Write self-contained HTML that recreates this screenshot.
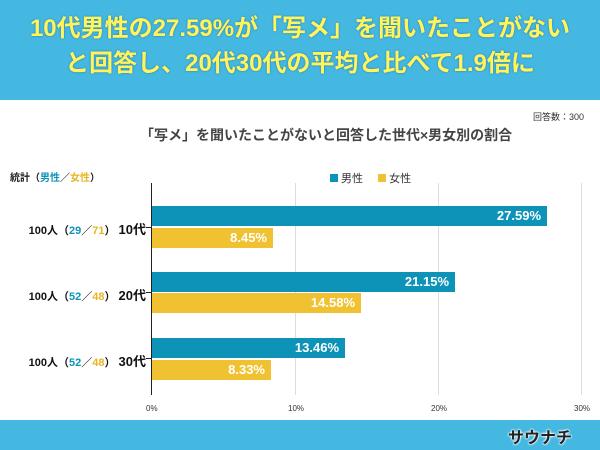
<!DOCTYPE html><html><head><meta charset="utf-8"><style>
body{margin:0;width:600px;height:450px;overflow:hidden;background:#fff;font-family:"Liberation Sans","Noto Sans CJK JP",sans-serif;position:relative}
.a{position:absolute;white-space:nowrap}
.bar{position:absolute;height:20px;color:#fff;font-weight:bold;font-size:13px;text-align:right;line-height:20px;box-sizing:border-box;padding-right:6px}
.m{background:#0e93b8}.f{background:#f0c232}
.g{position:absolute;top:183px;height:212px;width:1px;background:#ddd}
.t{position:absolute;top:404px;font-size:8px;color:#333}
.r{position:absolute;left:0;width:146px;text-align:right;font-size:11px;font-weight:bold;color:#111}
.k{position:absolute;left:146px;width:6px;height:1px;background:#222}
</style></head><body>
<div class="a" style="left:0;top:0;width:600px;height:100px;background:#45b8e2"></div>
<div class="a" style="left:0;top:11px;width:600px;text-align:center;font-size:24px;font-weight:bold;color:#fff45c;line-height:35px;text-shadow:0 0 2px #2a7aa0">10代男性の27.59%が「写メ」を聞いたことがない<br>と回答し、20代30代の平均と比べて1.9倍に</div>
<div class="a" style="left:0;top:420px;width:600px;height:30px;background:#45b8e2"></div>
<div class="a" style="left:508px;top:424px;font-size:16px;font-weight:bold;color:#222;text-shadow:0 0 2px #fff,0 0 2px #fff,0 0 2px #fff">サウナチ</div>
<div class="a" style="right:16px;top:110px;font-size:9px;color:#333">回答数：300</div>
<div class="a" style="left:140px;top:125px;font-size:14px;font-weight:bold;color:#444">「写メ」を聞いたことがないと回答した世代×男女別の割合</div>
<div class="a" style="left:10px;top:169px;font-size:10px;font-weight:bold;color:#222">統計（<span style="color:#0e93b8">男性</span>／<span style="color:#e8b520">女性</span>）</div>
<div class="a" style="left:330px;top:170px;font-size:11px;color:#333"><span style="display:inline-block;width:8px;height:8px;background:#0e93b8"></span> 男性 <span style="display:inline-block;width:8px;height:8px;background:#f0c232;margin-left:12px"></span> 女性</div>
<div class="g" style="left:295px"></div><div class="g" style="left:438px"></div><div class="g" style="left:581px"></div>
<div class="a" style="left:151px;top:183px;width:1px;height:212px;background:#222"></div>
<div class="k" style="top:227px"></div><div class="k" style="top:292px"></div><div class="k" style="top:358px"></div>
<div class="t" style="left:146px">0%</div><div class="t" style="left:288px">10%</div><div class="t" style="left:431px">20%</div><div class="t" style="left:574px">30%</div>
<div class="bar m" style="left:152px;top:206px;width:395px">27.59%</div>
<div class="bar f" style="left:152px;top:228px;width:121px">8.45%</div>
<div class="bar m" style="left:152px;top:272px;width:303px">21.15%</div>
<div class="bar f" style="left:152px;top:293px;width:209px">14.58%</div>
<div class="bar m" style="left:152px;top:338px;width:193px">13.46%</div>
<div class="bar f" style="left:152px;top:360px;width:119px">8.33%</div>
<div class="r" style="top:219px">100人（<span style="color:#0e93b8">29</span>／<span style="color:#e8b520">71</span>） <span style="font-size:13px">10代</span></div>
<div class="r" style="top:285px">100人（<span style="color:#0e93b8">52</span>／<span style="color:#e8b520">48</span>） <span style="font-size:13px">20代</span></div>
<div class="r" style="top:351px">100人（<span style="color:#0e93b8">52</span>／<span style="color:#e8b520">48</span>） <span style="font-size:13px">30代</span></div>
</body></html>
